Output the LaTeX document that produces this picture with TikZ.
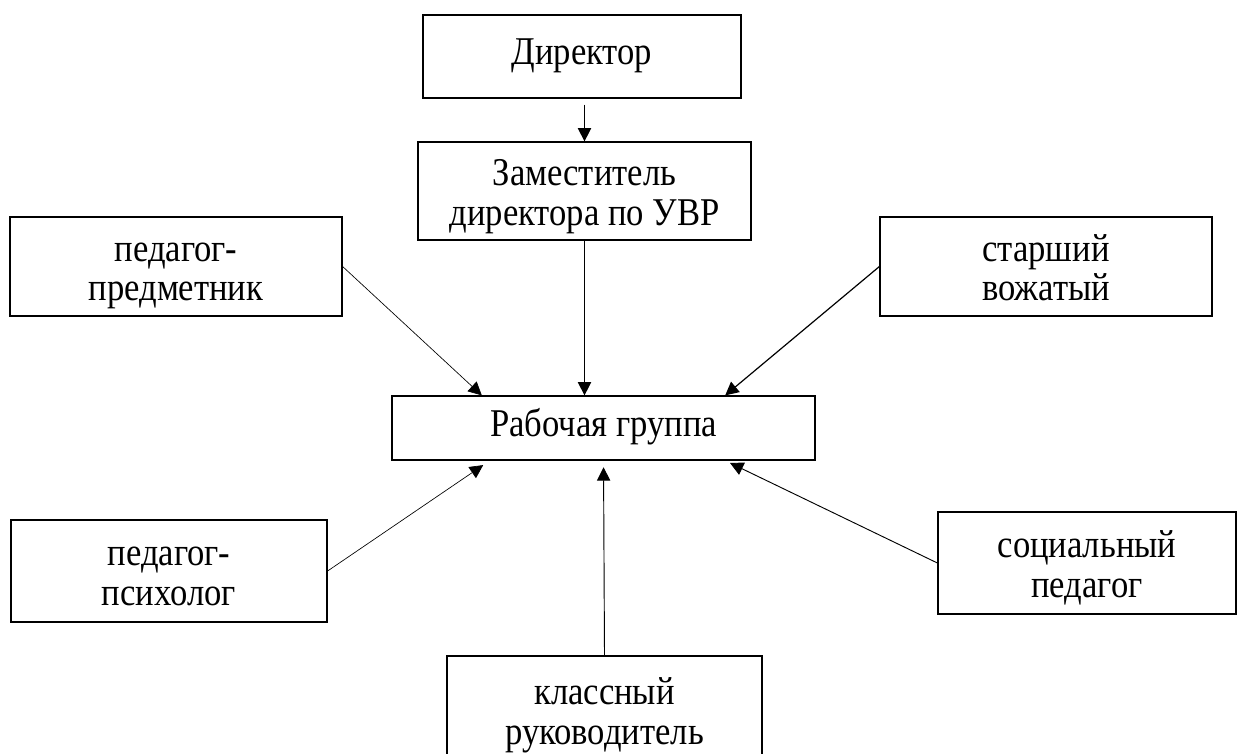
\documentclass[tikz,border=0pt]{standalone}
\usepackage{fontspec}
\setmainfont{Liberation Serif}[FakeStretch=0.88]
\usetikzlibrary{arrows.meta}
\newcommand{\tallst}{\rule{0pt}{30.4pt}}
\tikzset{
  box/.style={draw, line width=0.9pt, align=center, inner sep=0pt,
    font=\fontsize{29.5}{29.5}\selectfont},
  arr/.style={line width=0.7pt, -{Triangle[length=10pt,width=10pt]}}
}
\begin{document}
\begin{tikzpicture}[x=0.75pt, y=-0.75pt]
\useasboundingbox (0,0) rectangle (1245,753);
% boxes
\node[box, minimum width=238.5pt, minimum height=62.25pt] (dir) at (582,56.5) {\strut Директор};
\node[box, minimum width=249.75pt, minimum height=73.5pt] (zam) at (584.5,191) {\tallst Заместитель\\директора по УВР\strut};
\node[box, minimum width=317.25pt, minimum height=48pt] (rab) at (603.5,428) {\strut Рабочая группа};
\node[box, minimum width=249pt, minimum height=74.25pt] (pred) at (176,266.5) {\tallst педагог-\\предметник\strut};
\node[box, minimum width=249pt, minimum height=74.25pt] (star) at (1046,266.5) {\tallst старший\\вожатый\strut};
\node[box, minimum width=237pt, minimum height=76.5pt] (psih) at (169,571) {\tallst педагог-\\психолог\strut};
\node[box, minimum width=223.5pt, minimum height=76.5pt] (soc) at (1087,563) {\tallst социальный\\педагог\strut};
\node[box, minimum width=236.25pt, minimum height=81pt] (klass) at (604.5,710) {\tallst классный\\руководитель\strut};
% arrows
\draw[arr, shorten <=4.5pt] (zam.north |- dir.south) -- (zam.north);
\draw[arr] (zam.south) -- (zam.south |- rab.north);
\draw[arr, line width=0.5pt] (pred.east) -- (rab.165);
\draw[arr, line width=0.9pt] (star.west) -- (rab.15);
\draw[arr, line width=0.5pt, shorten >=6pt] (psih.east) -- (rab.196);
\draw[arr, shorten >=5pt] (klass.north) -- (rab.south);
\draw[arr, shorten >=4pt] (soc.west) -- (rab.-15);
\end{tikzpicture}
\end{document}
